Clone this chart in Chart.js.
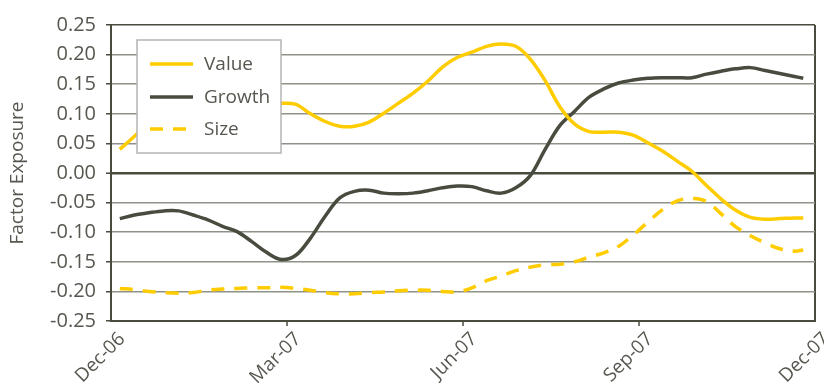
<!DOCTYPE html>
<html>
<head>
<meta charset="utf-8">
<script src="https://cdn.jsdelivr.net/npm/chart.js@4"></script>
<style>
  html, body { margin: 0; padding: 0; background: #ffffff; }
  #wrap { position: relative; width: 824px; height: 388px; }
</style>
</head>
<body>
<div id="wrap"><canvas id="c" width="824" height="388"></canvas></div>
<script>
// Months after the Dec-06 axis tick
const months = [0.15,0.40,0.65,0.90,1.15,1.40,1.65,1.90,2.15,2.40,2.65,2.90,3.15,3.40,3.65,3.90,4.15,4.40,4.65,4.90,5.15,5.40,5.65,5.90,6.15,6.40,6.65,6.90,7.15,7.40,7.65,7.90,8.15,8.40,8.65,8.90,9.15,9.40,9.65,9.90,10.15,10.40,10.65,10.90,11.15,11.40,11.65,11.80];

const valueSeries = [0.040,0.062,0.085,0.100,0.110,0.116,0.119,0.120,0.120,0.119,0.118,0.118,0.116,0.100,0.087,0.079,0.079,0.086,0.101,0.118,0.135,0.155,0.179,0.195,0.204,0.214,0.218,0.214,0.192,0.156,0.112,0.083,0.070,0.069,0.069,0.064,0.051,0.037,0.020,0.003,-0.021,-0.044,-0.063,-0.075,-0.078,-0.077,-0.076,-0.076];

const growthSeries = [-0.077,-0.071,-0.067,-0.064,-0.064,-0.071,-0.079,-0.090,-0.099,-0.116,-0.134,-0.146,-0.139,-0.110,-0.073,-0.042,-0.031,-0.029,-0.034,-0.035,-0.034,-0.030,-0.025,-0.022,-0.023,-0.030,-0.034,-0.025,-0.004,0.040,0.080,0.104,0.128,0.142,0.152,0.157,0.160,0.161,0.161,0.161,0.167,0.172,0.176,0.178,0.173,0.168,0.163,0.160];

const sizeSeries = [-0.195,-0.197,-0.200,-0.202,-0.203,-0.202,-0.198,-0.196,-0.195,-0.194,-0.194,-0.193,-0.195,-0.198,-0.202,-0.204,-0.204,-0.202,-0.201,-0.199,-0.198,-0.198,-0.200,-0.201,-0.194,-0.182,-0.174,-0.165,-0.159,-0.155,-0.154,-0.150,-0.142,-0.135,-0.124,-0.105,-0.083,-0.062,-0.047,-0.043,-0.048,-0.069,-0.091,-0.106,-0.118,-0.128,-0.132,-0.130];

const xTickValues = [0, 3, 6, 9, 12];
const xTickLabels = ['Dec-06', 'Mar-07', 'Jun-07', 'Sep-07', 'Dec-07'];
const seriesNames = ['Value', 'Growth', 'Size'];
const yTitle = 'Factor Exposure';

const GOLD = '#FFCC00';
const DARK = '#474C3F';
const GRID = '#8E9288';
const TEXT = '#56584F';
const FONT = '"Open Sans", "Noto Sans", sans-serif';

const toPts = arr => arr.map((v, i) => ({ x: months[i], y: v }));

const legendPlugin = {
  id: 'boxLegend',
  afterDatasetsDraw(chart) {
    const ctx = chart.ctx;
    const bx = 137, by = 40, bw = 144, bh = 113;
    ctx.save();
    ctx.fillStyle = '#ffffff';
    ctx.fillRect(bx, by, bw, bh);
    ctx.strokeStyle = '#B4B4B4';
    ctx.lineWidth = 1.5;
    ctx.strokeRect(bx, by, bw, bh);
    const ds = chart.data.datasets;
    const ys = [64, 97, 129];
    ctx.font = '19px ' + FONT;
    ctx.textBaseline = 'middle';
    ctx.textAlign = 'left';
    ds.forEach((d, i) => {
      ctx.beginPath();
      ctx.strokeStyle = d.borderColor;
      ctx.lineWidth = 3.5;
      ctx.setLineDash(d.borderDash || []);
      ctx.moveTo(150, ys[i]);
      ctx.lineTo(193, ys[i]);
      ctx.stroke();
      ctx.setLineDash([]);
      ctx.fillStyle = TEXT;
      ctx.fillText(d.label, 204, ys[i] + 1);
    });
    ctx.restore();
  }
};

new Chart(document.getElementById('c'), {
  type: 'line',
  data: {
    datasets: [
      { label: seriesNames[0], data: toPts(valueSeries), borderColor: GOLD, borderWidth: 3.5 },
      { label: seriesNames[1], data: toPts(growthSeries), borderColor: DARK, borderWidth: 3.5 },
      { label: seriesNames[2], data: toPts(sizeSeries), borderColor: GOLD, borderWidth: 3.5, borderDash: [13, 10] }
    ]
  },
  options: {
    responsive: false,
    animation: false,
    events: [],
    layout: { padding: { left: 0, right: 9, top: 25, bottom: 0 } },
    elements: {
      point: { radius: 0 },
      line: { tension: 0.35, fill: false, borderCapStyle: 'butt' }
    },
    plugins: { legend: { display: false }, tooltip: { enabled: false } },
    scales: {
      x: {
        type: 'linear',
        min: 0, max: 12,
        afterBuildTicks: s => { s.ticks = xTickValues.map(v => ({ value: v })); },
        afterFit: s => { s.height = 67; s.paddingLeft = 0; s.paddingRight = 0; },
        ticks: {
          autoSkip: false,
          minRotation: 45, maxRotation: 45,
          color: TEXT,
          font: { family: FONT, size: 19 },
          padding: 2,
          labelOffset: 11,
          callback: (v) => { const i = xTickValues.indexOf(v); return i >= 0 ? xTickLabels[i] : ''; }
        },
        grid: {
          drawOnChartArea: true,
          color: c => (c.tick && c.tick.value === 12) ? DARK : 'rgba(0,0,0,0)',
          lineWidth: 2,
          tickColor: c => (c.tick && (c.tick.value === 0 || c.tick.value === 12)) ? 'rgba(0,0,0,0)' : DARK,
          tickLength: 5,
          tickWidth: 1.5
        },
        border: { display: true, color: DARK, width: 2 }
      },
      y: {
        min: -0.25, max: 0.25,
        afterFit: s => { s.width = 111; },
        ticks: {
          stepSize: 0.05,
          color: TEXT,
          font: { family: FONT, size: 20 },
          padding: 10,
          callback: v => Number(v).toFixed(2)
        },
        grid: {
          color: c => {
            const v = Math.round(c.tick.value * 100);
            return (v === 0 || v === 25) ? DARK : GRID;
          },
          lineWidth: c => {
            const v = Math.round(c.tick.value * 100);
            return v === 0 ? 2.5 : 1.5;
          },
          tickColor: DARK,
          tickLength: 5,
          tickWidth: 1.5
        },
        border: { display: true, color: DARK, width: 2 },
        title: {
          display: true,
          text: yTitle,
          color: TEXT,
          font: { family: FONT, size: 19 },
          padding: { top: 6, bottom: 0 }
        }
      }
    }
  },
  plugins: [legendPlugin]
});
</script>
</body>
</html>
